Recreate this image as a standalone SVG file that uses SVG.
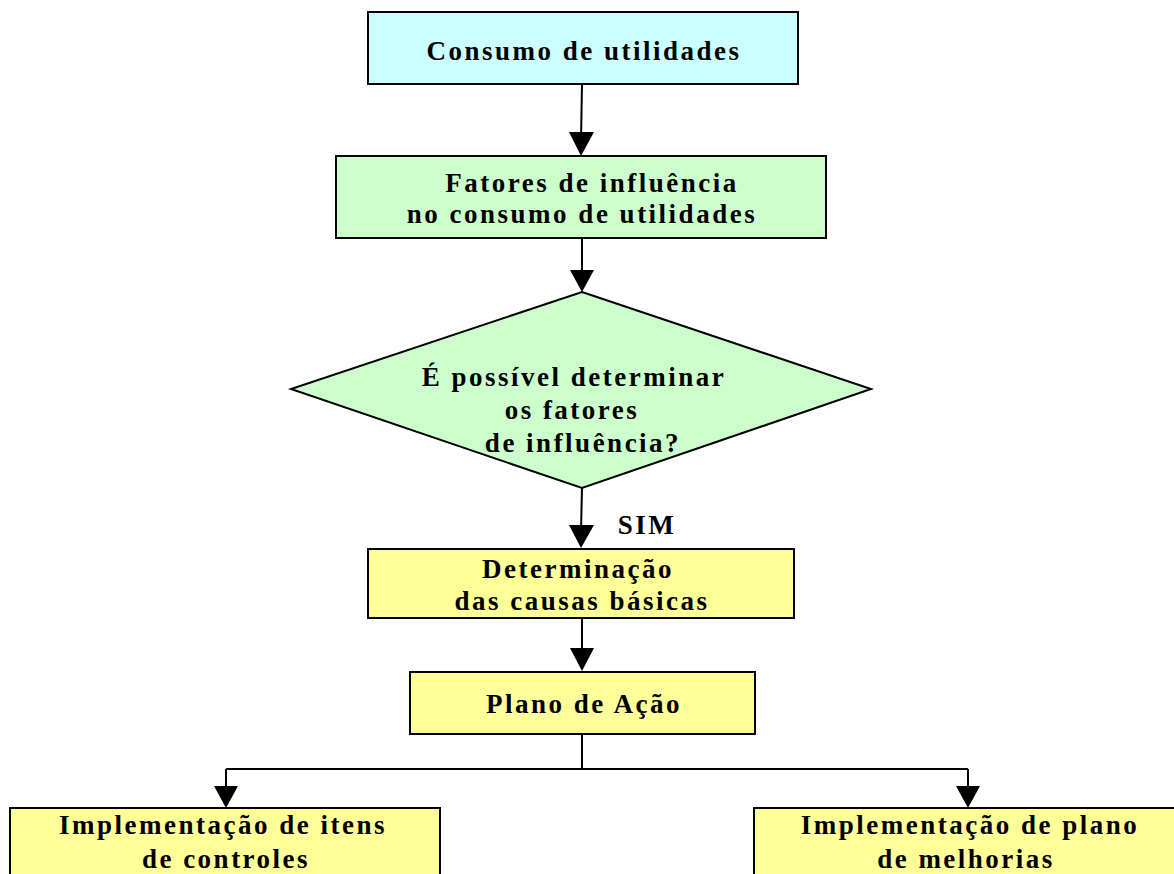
<svg xmlns="http://www.w3.org/2000/svg" width="1174" height="874" viewBox="0 0 1174 874">
<defs>
<style>
.n{stroke:#000;stroke-width:2}
.t{font-family:"Liberation Serif","Times New Roman",serif;font-weight:bold;font-size:27px;letter-spacing:2.5px;fill:#000;text-anchor:middle}
.c{fill:none;stroke:#000;stroke-width:2}
.a{fill:#000}
</style>
</defs>
<rect width="1174" height="874" fill="#fff"/>
<g id="connectors">
<path class="c" d="M582,84 L581,140"/>
<path class="a" d="M569,132 L594,132 L581,156 z"/>
<path class="c" d="M582,238 L582,280"/>
<path class="a" d="M570,270 L594,270 L582,292 z"/>
<path class="c" d="M582,488 L581,530"/>
<path class="a" d="M569,525 L594,525 L581,548 z"/>
<path class="c" d="M582,618 L582,655"/>
<path class="a" d="M570,648 L594,648 L582,671 z"/>
<path class="c" d="M582,734 L582,769 M226,769 L968,769 M226,769 L226,790 M968,769 L968,790"/>
<path class="a" d="M214,786 L238,786 L226,808 z"/>
<path class="a" d="M956,786 L980,786 L968,808 z"/>
<text class="t" x="647" y="534">SIM</text>
</g>
<g id="n1"><rect class="n" x="368" y="12" width="430" height="72" fill="#CCFFFF"/><text class="t" x="584" y="60">Consumo de utilidades</text></g>
<g id="n2"><rect class="n" x="336" y="156" width="490" height="82" fill="#CCFFCC"/><text class="t" x="592" y="192">Fatores de influência</text><text class="t" x="582" y="223">no consumo de utilidades</text></g>
<g id="n3"><polygon class="n" points="582,292 871,389 582,488 291,389" fill="#CCFFCC"/><text class="t" x="574" y="386">É possível determinar</text><text class="t" x="572" y="419">os fatores</text><text class="t" x="583" y="452">de influência?</text></g>
<g id="n4"><rect class="n" x="368" y="549" width="426" height="69" fill="#FFFF99"/><text class="t" x="578" y="578">Determinação</text><text class="t" x="582" y="610">das causas básicas</text></g>
<g id="n5"><rect class="n" x="410" y="672" width="345" height="62" fill="#FFFF99"/><text class="t" x="584" y="713">Plano de Ação</text></g>
<g id="n6"><rect class="n" x="10" y="808" width="430" height="80" fill="#FFFF99"/><text class="t" x="223" y="834">Implementação de itens</text><text class="t" x="226" y="868">de controles</text></g>
<g id="n7"><rect class="n" x="754" y="808" width="440" height="80" fill="#FFFF99"/><text class="t" x="970" y="834">Implementação de plano</text><text class="t" x="966" y="868">de melhorias</text></g>
</svg>
